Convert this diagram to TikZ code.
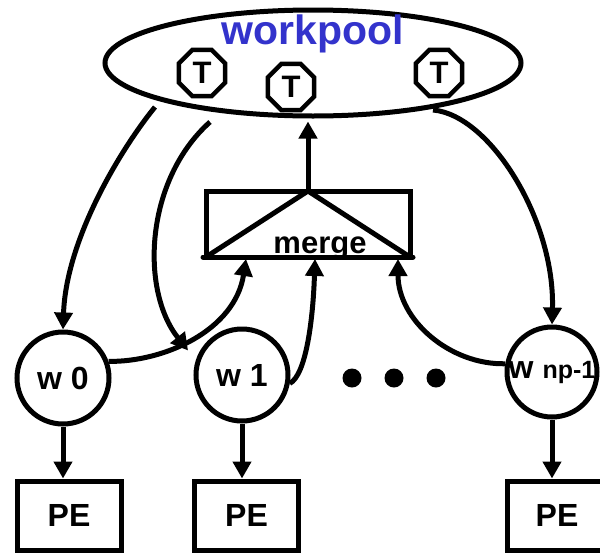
\documentclass[tikz,border=0pt]{standalone}
\usepackage{fontspec}
\setmainfont{Liberation Sans}
\usetikzlibrary{shapes.geometric,arrows.meta}
\definecolor{poolblue}{RGB}{51,51,204}
\begin{document}
\begin{tikzpicture}[x=1pt,y=-1pt,line width=5pt,
  every node/.style={inner sep=0pt},
  fsz/.style={font=\fontsize{#1}{#1}\selectfont\bfseries},
  arr/.style={-{Triangle[length=17pt,width=18pt]}},
  worker/.style={circle,draw,minimum size=92pt,fsz=32},
  pebox/.style={rectangle,draw,minimum width=104pt,minimum height=69pt,fsz=32},
  token/.style={regular polygon,regular polygon sides=8,draw,line width=4.4pt,minimum size=50pt,fsz=31},
  dot/.style={circle,fill,minimum size=19pt}]
\useasboundingbox (0,0) rectangle (600,552);

% work pool with its tasks
\node[ellipse,draw,minimum width=416pt,minimum height=106pt] (pool) at (313,63) {};
\node[text=poolblue,fsz=41,anchor=base] (title) at (313,44) {workpool};
\node[token] (t1) at (202,73) {T};
\node[token] (t2) at (291,87) {T};
\node[token] (t3) at (439,73) {T};

% merge unit
\node[rectangle,draw,outer sep=0pt,minimum width=204pt,minimum height=66pt] (merge) at (308,224) {};
\draw (merge.south west) -- (merge.north) -- (merge.south east);
\draw[line cap=round] ([xshift=-3pt]merge.south west) -- ([xshift=3pt]merge.south east);
\node[fsz=31,anchor=base] (mlabel) at (320,253) {merge};

% workers
\node[worker] (w0) at (63,378) {w 0};
\node[worker] (w1) at (242,375) {w 1};
\node[worker,minimum size=90pt] (wn) at (552,372) {w {\fontsize{25}{25}\selectfont np-1}};
\node[dot] (d1) at (352,378) {};
\node[dot] (d2) at (394,378) {};
\node[dot] (d3) at (436,378) {};

% processing elements
\node[pebox] (pe0) at (69,515.5) {PE};
\node[pebox] (pe1) at (246.5,515.5) {PE};
\node[pebox,minimum width=100pt] (pe2) at (557,515.5) {PE};

% connector end points
\coordinate (s0) at (155,107);
\coordinate (s1) at (210,122);
\coordinate (s2) at (433,110);
\coordinate (e1) at ([shift={(-10,-4)}]w1.155);
\coordinate (in0) at ([shift={(-62,2)}]merge.south);
\coordinate (in1) at ([shift={(7,2)}]merge.south);
\coordinate (in2) at ([shift={(90,2)}]merge.south);

% tasks handed out
\draw[arr] (s0) .. controls (120,150) and (66,240) .. (w0.north);
\draw[arr] (s1) .. controls (145,180) and (140,290) .. (e1);
\draw[arr] (s2) .. controls (490,115) and (555,220) .. (wn.north);

% results collected
\draw[arr] (w0.20) .. controls (165,362) and (235,330) .. (in0);
\draw[arr] (w1.-10) .. controls (306,375) and (313,320) .. (in1);
\draw[arr] (wn.170) .. controls (450,365) and (398,320) .. (in2);
\draw[arr,shorten >=3pt] (merge.north) -- (merge.north |- pool.south);

% workers to their PEs
\draw[arr] (w0.south) -- (w0.south |- pe0.north);
\draw[arr] (w1.south) -- (w1.south |- pe1.north);
\draw[arr] (wn.south) -- (wn.south |- pe2.north);
\end{tikzpicture}
\end{document}
